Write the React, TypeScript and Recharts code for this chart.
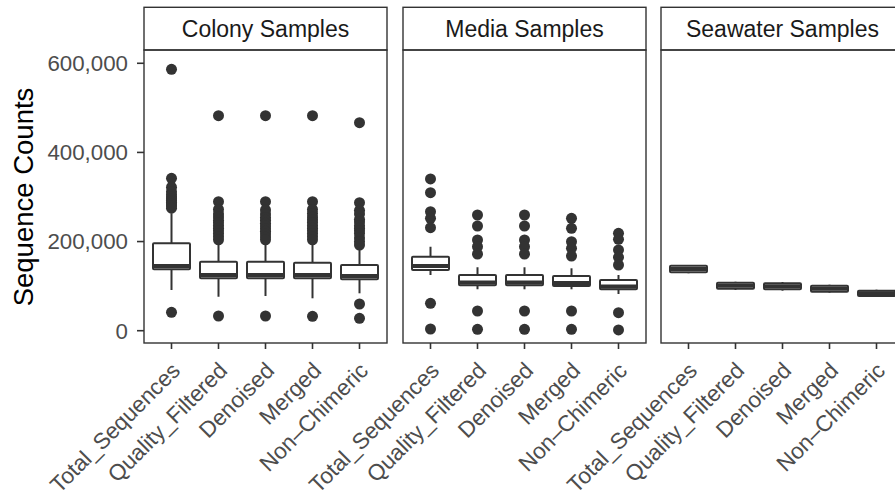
import { ComposedChart, Bar, Scatter, XAxis, YAxis } from "recharts";

const FONT = "'Liberation Sans', Arial, Helvetica, sans-serif";
const INK = "#333333";

const categories = ["Total_Sequences", "Quality_Filtered", "Denoised", "Merged", "Non–Chimeric"];
const panels = ["Colony Samples", "Media Samples", "Seawater Samples"];
const yTicks = [0, 200000, 400000, 600000];

// box stats per category: [whisker low, Q1, median, Q3, whisker high]
const colonyBoxes = [
  [91300, 137800, 145000, 196100, 263400],
  [76300, 117600, 125000, 154800, 198000],
  [77800, 117600, 125000, 154800, 198000],
  [72700, 117600, 125000, 152600, 198000],
  [83900, 115300, 122700, 147400, 188000],
];
const mediaBoxes = [
  [125000, 136200, 145200, 166000, 188500],
  [92900, 101900, 108200, 125000, 142300],
  [92900, 101900, 108200, 125000, 142300],
  [92900, 100300, 107000, 122700, 140000],
  [82300, 92900, 99200, 113800, 125000],
];
const seawaterBoxes = [
  [128800, 131000, 138400, 145800, 147400],
  [91300, 94200, 101000, 107700, 109900],
  [89800, 92900, 99600, 106400, 109300],
  [85300, 87500, 94200, 101000, 103200],
  [75600, 77900, 83900, 89800, 92000],
];

// outlying samples per category
const colonyOutliers = [
  [586500, 342000, 322000, 312000, 305000, 300000, 296000, 292000, 288000, 284000, 280000, 275000, 41300],
  [482400, 289500, 272000, 262000, 255000, 248000, 242000, 236000, 230000, 224000, 218000, 211000, 204000, 33000],
  [482400, 289500, 271000, 262000, 254000, 248000, 241000, 235000, 229000, 223000, 217000, 210000, 204000, 33000],
  [482400, 289500, 272000, 263000, 255000, 249000, 243000, 236000, 230000, 224000, 218000, 211000, 204000, 32300],
  [466700, 287200, 270000, 262000, 250000, 244000, 236000, 230000, 224000, 218000, 208000, 200000, 192300, 59900, 27800],
];
const mediaOutliers = [
  [340400, 309700, 267000, 252200, 231100, 61500, 3800],
  [259600, 234900, 203500, 188500, 172100, 44200, 3100],
  [259600, 234900, 203500, 188500, 172100, 44200, 3100],
  [252200, 229800, 199700, 184900, 167600, 44200, 3100],
  [218500, 205100, 181100, 164700, 147400, 40400, 1600],
];
const seawaterOutliers: number[][] = [[], [], [], [], []];

function buildBoxes(stats: number[][]) {
  return categories.map((cat, i) => {
    const [lo, q1, med, q3, hi] = stats[i];
    return { cat, range: [lo, hi], lo, q1, med, q3, hi };
  });
}

function buildOutliers(out: number[][]) {
  return out.flatMap((vals, i) => vals.map((v) => ({ cat: categories[i], v })));
}

const BoxShape = (props: any) => {
  const { x, y, width, height, payload } = props;
  const top = Math.min(y, y + height);
  const h = Math.abs(height);
  const { lo, q1, med, q3, hi } = payload;
  const py = (v: number) => top + (h * (hi - v)) / (hi - lo);
  const cx = x + width / 2;
  return (
    <g>
      <line x1={cx} x2={cx} y1={py(hi)} y2={py(q3)} stroke={INK} strokeWidth={2} />
      <line x1={cx} x2={cx} y1={py(q1)} y2={py(lo)} stroke={INK} strokeWidth={2} />
      <rect x={x} y={py(q3)} width={width} height={py(q1) - py(q3)} fill="#ffffff" stroke={INK} strokeWidth={2} rx={1} />
      <line x1={x} x2={x + width} y1={py(med)} y2={py(med)} stroke={INK} strokeWidth={4} />
    </g>
  );
};

const Dot = (props: any) => <circle cx={props.cx} cy={props.cy} r={5.5} fill={INK} />;

const XTick = (props: any) => {
  const { x, y, payload } = props;
  const px = x + 10;
  const py = y + 21;
  return (
    <text x={px} y={py} transform={`rotate(-45, ${px}, ${py})`} textAnchor="end" fontSize={22.5} fill="#4d4d4d" fontFamily={FONT}>
      {payload.value}
    </text>
  );
};

const PLOT_TOP = 50;
const PLOT_BOTTOM = 343;
const PANEL_W = 243;
const panelLeft = [144, 403, 661];
const Y_DOMAIN = [-27600, 629800];

function Panel({ index, boxes, outliers }: { index: number; boxes: number[][]; outliers: number[][] }) {
  const left = panelLeft[index];
  return (
    <div style={{ position: "absolute", left: 0, top: 0 }}>
      <ComposedChart
        width={left + PANEL_W}
        height={498}
        data={buildBoxes(boxes)}
        margin={{ top: PLOT_TOP, right: 0, bottom: 0, left: index === 0 ? 0 : left }}
      >
        <XAxis
          dataKey="cat"
          type="category"
          allowDuplicatedCategory={false}
          height={498 - PLOT_BOTTOM}
          padding={{ left: 4, right: 4 }}
          axisLine={false}
          tickLine={{ stroke: INK, strokeWidth: 1.6 }}
          tickSize={6}
          tickMargin={2}
          interval={0}
          tick={<XTick />}
        />
        {index === 0 ? (
          <YAxis
            type="number"
            domain={Y_DOMAIN}
            allowDataOverflow
            ticks={yTicks}
            width={144}
            axisLine={false}
            tickLine={{ stroke: INK, strokeWidth: 1.6 }}
            tickSize={7}
            tickMargin={9}
            tickFormatter={(v: number) => v.toLocaleString("en-US")}
            tick={{ fontSize: 22.3, fill: "#4d4d4d", fontFamily: FONT }}
          />
        ) : (
          <YAxis type="number" domain={Y_DOMAIN} allowDataOverflow hide />
        )}
        <Bar dataKey="range" barSize={37} shape={<BoxShape />} isAnimationActive={false} />
        <Scatter data={buildOutliers(outliers)} dataKey="v" shape={<Dot />} isAnimationActive={false} />
      </ComposedChart>
    </div>
  );
}

export default function App() {
  return (
    <div
      style={{
        position: "absolute",
        left: 0,
        top: 0,
        width: 895,
        height: 498,
        overflow: "hidden",
        background: "#ffffff",
        fontFamily: FONT,
      }}
    >
      <Panel index={0} boxes={colonyBoxes} outliers={colonyOutliers} />
      <Panel index={1} boxes={mediaBoxes} outliers={mediaOutliers} />
      <Panel index={2} boxes={seawaterBoxes} outliers={seawaterOutliers} />
      <svg width={905} height={498} style={{ position: "absolute", left: 0, top: 0, pointerEvents: "none" }}>
        <text
          x={33}
          y={197}
          transform="rotate(-90, 33, 197)"
          textAnchor="middle"
          fontSize={27.5}
          fill="#000000"
          fontFamily={FONT}
        >
          Sequence Counts
        </text>
        {panels.map((name, i) => (
          <g key={name}>
            <rect x={panelLeft[i]} y={7.3} width={PANEL_W} height={PLOT_TOP - 7.3} fill="none" stroke={INK} strokeWidth={1.4} />
            <text x={panelLeft[i] + PANEL_W / 2} y={37} textAnchor="middle" fontSize={23} fill="#1a1a1a" fontFamily={FONT}>
              {name}
            </text>
            <rect x={panelLeft[i]} y={PLOT_TOP} width={PANEL_W} height={PLOT_BOTTOM - PLOT_TOP} fill="none" stroke={INK} strokeWidth={1.4} />
          </g>
        ))}
      </svg>
    </div>
  );
}
